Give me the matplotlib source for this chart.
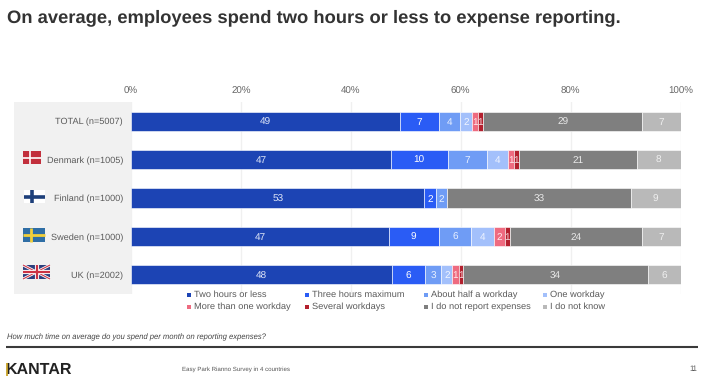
import matplotlib
matplotlib.use("Agg")
import matplotlib.pyplot as plt
from matplotlib.patches import Rectangle
from matplotlib.lines import Line2D

plt.rcParams['font.family'] = ['Liberation Sans', 'DejaVu Sans']
plt.rcParams['text.hinting'] = 'no_hinting'
plt.rcParams['text.hinting_factor'] = 8

W = 705
H = 386

groups = ["TOTAL (n=5007)", "Denmark (n=1005)", "Finland (n=1000)", "Sweden (n=1000)", "UK (n=2002)"]
series = ["Two hours or less", "Three hours maximum", "About half a workday", "One workday",
          "More than one workday", "Several workdays", "I do not report expenses", "I do not know"]
colors = ["#1c44b4", "#2a5cf5", "#6f9cf5", "#a3c0fb", "#ee6b80", "#b3202e", "#7f7f7f", "#b9b9b9"]
text_colors = ["#dfe6f7", "#ffffff", "#e8f0ff", "#f0f4ff", "#ffe8ec", "#f5d8dc", "#e8e8e8", "#f0f0f0"]

two_hours = [49.0, 47.3, 53.4, 46.9, 47.5]
three_hours = [7.0, 10.3, 2.1, 9.1, 6.0]
half_day = [3.9, 7.1, 2.0, 5.9, 3.0]
one_day = [2.1, 3.9, 0, 4.1, 2.0]
more_one = [1.1, 1.1, 0, 2.0, 1.1]
several = [1.0, 0.9, 0, 1.0, 0.9]
not_report = [28.9, 21.4, 33.5, 24.0, 33.5]
dont_know = [7.0, 8.0, 9.0, 7.0, 6.0]
values = [two_hours, three_hours, half_day, one_day, more_one, several, not_report, dont_know]

# printed labels, the chart rounds on its own
labels = [[49, 47, 53, 47, 48],
          [7, 10, 2, 9, 6],
          [4, 7, 2, 6, 3],
          [2, 4, None, 4, 2],
          [1, 1, None, 2, 1],
          [1, 1, None, 1, 1],
          [29, 21, 33, 24, 34],
          [7, 8, 9, 7, 6]]

xticks = [0, 20, 40, 60, 80, 100]

legend_x = [187, 305, 424, 543]
legend_y = [295, 307]


def fx(x):
    return x / W


def fy(y):
    return 1 - y / H


def box(x0, y0, x1, y1, c, z=1):
    fig.add_artist(Rectangle((fx(x0), fy(y1)), (x1 - x0) / W, (y1 - y0) / H,
                             transform=fig.transFigure, fc=c, ec="none", zorder=z))


def line(x0, y0, x1, y1, c, lw, z=3):
    fig.add_artist(Line2D([fx(x0), fx(x1)], [fy(y0), fy(y1)], transform=fig.transFigure,
                          color=c, lw=lw, zorder=z, solid_capstyle="butt"))


fig = plt.figure(figsize=(W / 100, H / 100), dpi=100)

box(14, 102, 131, 294, "#f1f1f1", 0)

ax = fig.add_axes([fx(131), fy(294), (680.5 - 131) / W, 192 / H])
ax.patch.set_alpha(0)
ax.set_xlim(0, 100)
ax.set_ylim(4.5, -0.5)
for s in ax.spines.values():
    s.set_visible(False)
ax.set_axisbelow(True)
ax.grid(axis="x", color="#f0f0f0", lw=1)
ax.xaxis.tick_top()
ax.set_xticks(xticks)
ax.set_xticklabels([str(t) + "%" for t in xticks], fontsize=7, color="#666666")
ax.set_yticks(range(len(groups)))
ax.set_yticklabels(groups, fontsize=6.6, color="#5a5a5a")
ax.tick_params(length=0)
ax.tick_params(axis="y", pad=5.8)
ax.tick_params(axis="x", pad=4.6)

left = [0] * len(groups)
for i, vals in enumerate(values):
    ax.barh(range(len(groups)), vals, left=left, height=0.5, color=colors[i],
            edgecolor="#ffffff", linewidth=0.4)
    for j, v in enumerate(vals):
        if labels[i][j] is not None:
            ax.text(left[j] + v / 2, j, str(labels[i][j]), ha="center", va="center_baseline",
                    fontsize=7.2, color=text_colors[i])
    left = [a + b for a, b in zip(left, vals)]

# legend
for i, name in enumerate(series):
    lx = legend_x[i % 4]
    ly = legend_y[i // 4]
    box(lx, ly - 2, lx + 4, ly + 2, colors[i], 3)
    fig.text(fx(lx + 6.5), fy(ly), name, fontsize=6.65, color="#5a5a5a", ha="left", va="center")

# flags
box(23, 151, 41, 164, "#c22f3c", 3)
line(23, 157.5, 41, 157.5, "white", 1.2, 4)
line(30, 151, 30, 164, "white", 1.2, 4)

box(24, 190, 45, 203, "white", 3)
line(24, 196.5, 45, 196.5, "#1d3f7a", 2.6, 4)
line(31.5, 190, 31.5, 203, "#1d3f7a", 2.6, 4)

box(23, 228, 45, 242, "#2f6ea5", 3)
line(23, 235, 45, 235, "#f2cf3a", 2, 4)
line(31, 228, 31, 242, "#f2cf3a", 2, 4)

box(23, 265, 50, 279, "#2c3f7e", 3)
line(23, 265, 50, 279, "white", 2, 4)
line(23, 279, 50, 265, "white", 2, 4)
line(23, 265, 50, 279, "#cc3344", 0.8, 5)
line(23, 279, 50, 265, "#cc3344", 0.8, 5)
line(23, 272, 50, 272, "white", 3, 5)
line(36.5, 265, 36.5, 279, "white", 3, 5)
line(23, 272, 50, 272, "#cc3344", 1.6, 6)
line(36.5, 265, 36.5, 279, "#cc3344", 1.6, 6)

fig.text(fx(7), fy(18), "On average, employees spend two hours or less to expense reporting.",
         fontsize=13.2, fontweight="bold", color="#333333", ha="left", va="center")
fig.text(fx(7), fy(337.5), "How much time on average do you spend per month on reporting expenses?",
         fontsize=5.5, style="italic", color="#444444", ha="left", va="center")
line(6, 346.5, 698, 346.5, "#3a3a3a", 1.5)
fig.text(fx(6), fy(369.5), "KANTAR", fontsize=11.5, fontweight="bold", color="#222222", ha="left", va="center")
line(7, 363, 7, 375.5, "#c9a227", 1.3, 6)
fig.text(fx(182), fy(369), "Easy Park Rianno Survey in 4 countries", fontsize=4.45, color="#555555",
         ha="left", va="center")
fig.text(fx(689.5), fy(369), "11", fontsize=5.5, color="#555555", ha="left", va="center")

fig.savefig("out.png", dpi=100)
